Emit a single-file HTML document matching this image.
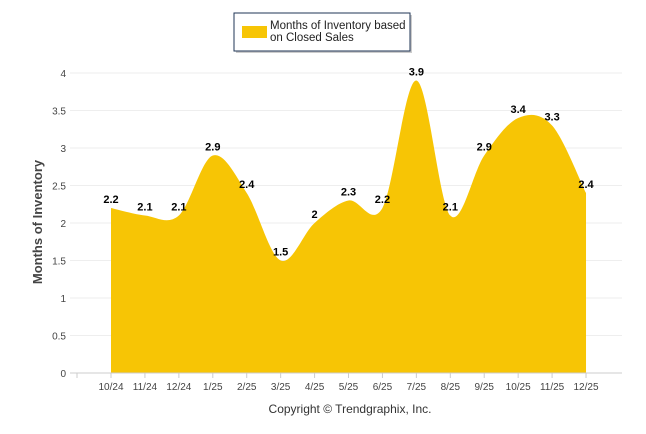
<!DOCTYPE html>
<html><head><meta charset="utf-8"><style>
body{margin:0;background:#fff;font-family:"Liberation Sans",Arial,sans-serif}
svg{display:block}
</style></head><body>
<svg id="c" width="646" height="434" xmlns="http://www.w3.org/2000/svg">
<g>
<rect x="236" y="15" width="176" height="38" fill="#999" opacity="0.5"/>
<rect x="234" y="13" width="176" height="38" fill="#fff" stroke="#1f3556" stroke-width="1"/>
<rect x="242" y="26" width="25" height="12" fill="#f7c505"/>
<text x="270" y="29" font-size="11.5" fill="#222"><tspan x="270">Months of Inventory based</tspan><tspan x="270" dy="12">on Closed Sales</tspan></text>
</g>
<text transform="translate(42,222) rotate(-90)" text-anchor="middle" font-size="13" font-weight="bold" fill="#444">Months of Inventory</text>
<text x="350" y="413" text-anchor="middle" font-size="12" fill="#333">Copyright © Trendgraphix, Inc.</text>
<g id="grid"></g><g id="area"></g><g id="xa"></g><g id="lbl"></g>
</svg>
<script>
const categories=["10/24","11/24","12/24","1/25","2/25","3/25","4/25","5/25","6/25","7/25","8/25","9/25","10/25","11/25","12/25"];
const values=[2.2,2.1,2.1,2.9,2.4,1.5,2,2.3,2.2,3.9,2.1,2.9,3.4,3.3,2.4];
const yTicks=[0,0.5,1,1.5,2,2.5,3,3.5,4];
const NS="http://www.w3.org/2000/svg";
const x0=111,dx=33.93,yBase=373,yTop=73,yMax=4;
const X=i=>x0+i*dx, Y=v=>yBase-(v/yMax)*(yBase-yTop);
function mk(t,a,p){const e=document.createElementNS(NS,t);for(const k in a)e.setAttribute(k,a[k]);document.getElementById(p).appendChild(e);return e;}
yTicks.forEach(v=>{
 const l=mk('line',{x1:70,x2:622,y1:Y(v),y2:Y(v),stroke:v===0?'#ccc':'#eee','stroke-width':1},'grid');
 
 
 const t=mk('text',{x:66,y:Y(v)+4,'text-anchor':'end','font-size':10,fill:'#444'},'grid');t.textContent=String(v);
 
 
});
const pts=values.map((v,i)=>[X(i),Y(v)]);
let d=`M${pts[0][0]},${yBase} L${pts[0][0]},${pts[0][1]}`;
const n=pts.length;
for(let i=0;i<n-1;i++){
 const p0=pts[Math.max(0,i-1)],p1=pts[i],p2=pts[i+1],p3=pts[Math.min(n-1,i+2)];
 const c1=[p1[0]+(p2[0]-p0[0])/6,p1[1]+(p2[1]-p0[1])/6];
 const c2=[p2[0]-(p3[0]-p1[0])/6,p2[1]-(p3[1]-p1[1])/6];
 d+=` C${c1[0]},${c1[1]} ${c2[0]},${c2[1]} ${p2[0]},${p2[1]}`;
}
d+=` L${pts[n-1][0]},${yBase} Z`;
const ar=mk('path',{d:d,fill:'#f7c505'},'area');


mk('line',{x1:70,x2:622,y1:yBase,y2:yBase,stroke:'#ccc'},'xa');
[77].concat(categories.map((_,i)=>X(i))).forEach(x=>mk('line',{x1:x,x2:x,y1:yBase,y2:yBase+5,stroke:'#ccc'},'xa'));
categories.forEach((c,i)=>{
 const t=mk('text',{x:X(i),y:390,'text-anchor':'middle','font-size':10,fill:'#444'},'xa');t.textContent=c;
 
 
 const v=mk('text',{x:X(i),y:Y(values[i])-5,'text-anchor':'middle','font-size':11,'font-weight':'bold',fill:'#000'},'lbl');v.textContent=String(values[i]);
 
 
});
</script>
</body></html>
